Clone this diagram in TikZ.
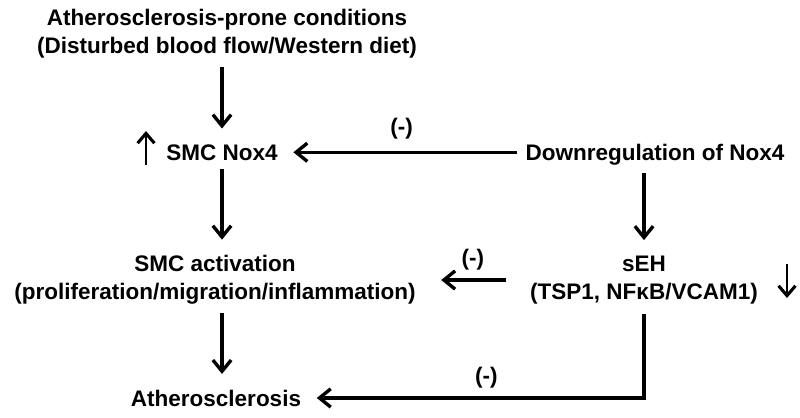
\documentclass[tikz,border=0pt]{standalone}
\usepackage{fontspec}
\setmainfont{Liberation Sans}
\usepackage{tikz}
\usetikzlibrary{arrows.meta}

\begin{document}
\begin{tikzpicture}[
x=0.025cm, y=-0.025cm,
stage label/.style = {align=center, inner sep=0pt, font=\bfseries\fontsize{16}{20}\selectfont},
sign label/.style = {inner sep=0pt, font=\bfseries\fontsize{16}{20}\selectfont},
link/.style = {-{Straight Barb[length=8pt,width=13pt,line width=2.4pt]}, line width=2.2pt, shorten <=6pt, shorten >=11pt},
trend/.style = {-{Straight Barb[length=7pt,width=12pt,line width=2.2pt]}, line width=2pt}
]

\useasboundingbox (0,0) rectangle (800,417);

\node (prone) at (227,34) [stage label] {Atherosclerosis-prone conditions\\(Disturbed blood flow/Western diet)};
\node (nox) at (222,160) [stage label, anchor=base] {SMC Nox4};
\node (down) at (655,160) [stage label, anchor=base] {Downregulation of Nox4};
\node (act) at (215,280) [stage label] {SMC activation\\(proliferation/migration/inflammation)};
\node (seh) at (644,280) [stage label] {sEH\\(TSP1, NFκB/VCAM1)};
\node (ath) at (216,406) [stage label, anchor=base] {Atherosclerosis};

% up / down trends
\draw[trend] (146,165) -- (146,131);
\draw[trend] (787,264) -- (787,298);

% left column
\draw[link] (prone.south -| nox.north) -- (nox.north);
\draw[link] (nox.south) -- (nox.south |- act.north);
\draw[link] (act.south -| nox.south) -- (ath.north -| nox.south);

% right column
\draw[link] (down.west |- nox.east) -- (nox.east) node[midway, above=8pt, sign label] {(-)};
\draw[link] (seh.north |- down.south) -- (seh.north);
\draw[link, shorten <=17pt, shorten >=18pt] (seh.west) -- (act.east) node[midway, above=6pt, sign label] {(-)};
\draw[link, shorten <=7pt] (seh.south) |- (ath.east) node[pos=0.73, above=6pt, sign label] {(-)};
\end{tikzpicture}
\end{document}
